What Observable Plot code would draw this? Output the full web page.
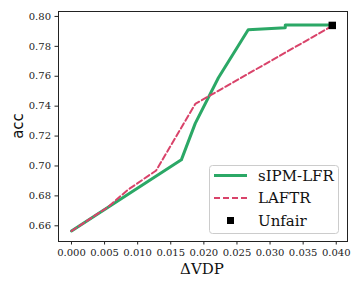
<!DOCTYPE html>
<html><head><meta charset="utf-8">
<script src="https://cdn.jsdelivr.net/npm/d3@7"></script>
<script src="https://cdn.jsdelivr.net/npm/@observablehq/plot@0.6"></script>
<style>body{margin:0;background:#fff;} #c{position:relative;width:360px;height:288px;} .lgt{font-family:"DejaVu Serif",serif !important;font-size:15px;}</style>
</head><body><div id="c"></div>
<script>
const sipmX = [0, 0.0166, 0.0187, 0.0222, 0.0267, 0.0323, 0.0323, 0.0394];
const sipmY = [0.6565, 0.7041, 0.7285, 0.7590, 0.7911, 0.7924, 0.7942, 0.7942];
const laftrX = [0, 0.0055, 0.0085, 0.0128, 0.0187, 0.0394];
const laftrY = [0.6565, 0.6725, 0.6840, 0.6970, 0.7415, 0.7937];
const unfairX = [0.0394];
const unfairY = [0.7940];
const xTicks = [0, 0.005, 0.010, 0.015, 0.020, 0.025, 0.030, 0.035, 0.040];
const yTicks = [0.66, 0.68, 0.70, 0.72, 0.74, 0.76, 0.78, 0.80];
const seriesNames = ["sIPM-LFR", "LAFTR", "Unfair"];
const green = "#2ba866", red = "#d9436a";

const sipm = sipmX.map((x,i)=>({x, y: sipmY[i]}));
const laftr = laftrX.map((x,i)=>({x, y: laftrY[i]}));
const unfair = unfairX.map((x,i)=>({x, y: unfairY[i]}));

const serif = "DejaVu Serif, serif";
const plot = Plot.plot({
  width: 360, height: 288,
  marginLeft: 58, marginRight: 13, marginTop: 11, marginBottom: 47,
  style: {fontFamily: serif, fontSize: "10px", color: "#222", background: "#fff"},
  x: {domain: [-0.00196, 0.04170], ticks: xTicks, tickFormat: d3.format(".3f"), label: null, tickSize: 3.5, tickPadding: 4},
  y: {domain: [0.6495, 0.8033], ticks: yTicks, tickFormat: d3.format(".2f"), label: null, tickSize: 3.5, tickPadding: 4},
  marks: [
    Plot.frame({stroke: "#222", strokeWidth: 1}),
    Plot.line(sipm, {x: "x", y: "y", stroke: green, strokeWidth: 3}),
    Plot.line(laftr, {x: "x", y: "y", stroke: red, strokeWidth: 2, strokeDasharray: "6,3"}),
    Plot.dot(unfair, {x: "x", y: "y", symbol: "square", fill: "black", r: 4.2}),
    Plot.axisX({ticks: xTicks, tickFormat: d3.format(".3f"), tickSize: 3.5, tickPadding: 4, label: null, fontSize: 10, fontFamily: serif}),
    Plot.axisY({ticks: yTicks, tickFormat: d3.format(".2f"), tickSize: 3.5, tickPadding: 4, label: null, fontSize: 10, fontFamily: serif})
  ]
});
document.getElementById("c").appendChild(plot);

const svg = d3.select(plot);
svg.append("text").attr("x", 202).attr("y", 274).attr("text-anchor","middle").attr("class","lgt")
  .attr("fill","#111").text("ΔVDP");
svg.append("text").attr("transform","translate(23,126) rotate(-90)").attr("text-anchor","middle")
  .attr("font-family","DejaVu Sans, sans-serif").style("font-size","15px").attr("fill","#111").text("acc");

// legend
const lg = svg.append("g").attr("text-anchor","start");
lg.append("rect").attr("x",209.5).attr("y",165.5).attr("width",129).attr("height",68).attr("rx",3)
  .attr("fill","white").attr("fill-opacity",0.85).attr("stroke","#ccc");
const rows = [175.5, 198, 220.5];
lg.append("line").attr("x1",214).attr("x2",247).attr("y1",rows[0]).attr("y2",rows[0]).attr("stroke",green).attr("stroke-width",3);
lg.append("line").attr("x1",214).attr("x2",247).attr("y1",rows[1]).attr("y2",rows[1]).attr("stroke",red).attr("stroke-width",2).attr("stroke-dasharray","6,3");
lg.append("rect").attr("x",227).attr("y",rows[2]-3.5).attr("width",7).attr("height",7).attr("fill","black");
seriesNames.forEach((n,i)=>{
  lg.append("text").attr("x",258).attr("y",rows[i]).attr("dy","0.35em").attr("text-anchor","start")
    .attr("class","lgt").attr("fill","#111").text(n);
});
</script></body></html>
